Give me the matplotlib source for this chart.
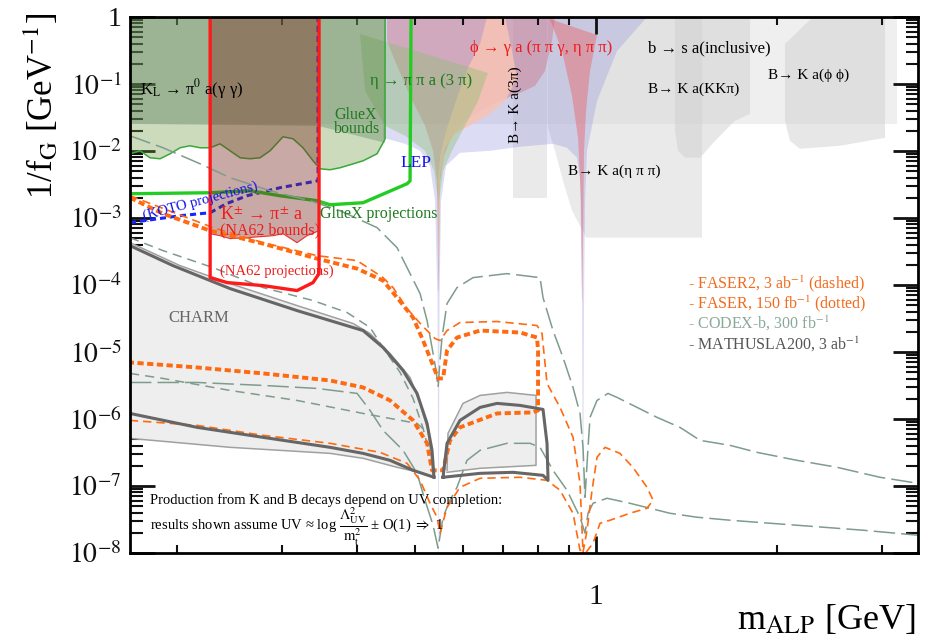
import numpy as np
import matplotlib
matplotlib.use('Agg')
import matplotlib.pyplot as plt
from matplotlib.ticker import FuncFormatter, LogLocator, NullFormatter

plt.rcParams['font.family'] = ['Liberation Serif', 'DejaVu Serif']
plt.rcParams['mathtext.fontset'] = 'stix'

# masses in GeV, couplings given as log10(1/f_G [GeV^-1])
m_lim = [0.1672, 3.441]

# b -> s a (inclusive) band
bsa_m = [0.1672, 3.176]
bsa_g = [0.0, -1.595]

# B -> K a(KK pi)
bkkpi_m = [1.354, 1.806, 1.806, 1.704, 1.579, 1.491, 1.407, 1.370, 1.354]
bkkpi_g = [0, 0, -1.446, -1.550, -1.848, -2.101, -2.101, -1.997, -1.699]

# B -> K a(phi phi)
bphi_m = [2.065, 2.300, 3.032, 3.032, 2.551, 2.188, 2.105, 2.065]
bphi_g = [-0.402, 0, 0, -1.803, -1.922, -1.967, -1.848, -1.550]

# B -> K a(3 pi)
b3pi_m = [0.7272, 0.8285]
b3pi_g = -2.697

# B -> K a(eta pi pi)
betapp_m = [0.8318, 1.502, 1.502, 0.9624, 0.9404, 0.9120, 0.8810, 0.8543, 0.8318]
betapp_g = [0, 0, -3.293, -3.293, -3.115, -2.891, -2.444, -1.997, -1.654]

# K_L -> pi0 a(gamma gamma)
kl_m = [0.1672, 0.4450, 0.4450, 0.3441, 0.1672]
kl_g = [0, 0, -1.878, -1.624, -1.595]

# GlueX bounds (lower wavy edge, left to right)
gxb_m = [0.1672, 0.1738, 0.1805, 0.1876, 0.1950, 0.2026, 0.2104, 0.2188, 0.2274,
         0.2362, 0.2455, 0.2551, 0.2650, 0.2754, 0.2862, 0.3008, 0.3126, 0.3248,
         0.3375, 0.3467, 0.3603, 0.3744, 0.3890, 0.4090, 0.4315, 0.4416, 0.4450]
gxb_g = [-2.042, -1.997, -2.101, -2.116, -2.042, -1.952, -1.922, -1.952, -1.952,
         -1.893, -1.997, -2.101, -2.116, -2.101, -1.997, -1.788, -1.818, -1.952,
         -2.146, -2.265, -2.280, -2.250, -2.206, -2.146, -2.042, -1.878, -1.818]

# eta -> pi pi a (3 pi)
eta_m = [0.4043, 0.6607, 0.6358, 0.6048, 0.5754, 0.5559, 0.5474, 0.5464, 0.5454,
         0.5370, 0.5188, 0.4806, 0.4450, 0.4121]
eta_g = [-0.253, -0.835, -1.252, -1.624, -1.997, -2.295, -2.742, -3.785, -2.742,
         -2.295, -1.997, -1.773, -1.624, -1.103]

# phi -> gamma a (pi pi gamma)
phi_m = [0.4484, 0.8543, 0.8445, 0.8222, 0.7913, 0.7470, 0.6918, 0.6408, 0.6048,
         0.5754, 0.5580, 0.5495, 0.5470, 0.5460, 0.5433, 0.5350, 0.5188, 0.4898,
         0.4624, 0.4484]
phi_g = [0, 0, -0.358, -0.805, -1.028, -1.133, -1.252, -1.401, -1.550,
         -1.773, -2.072, -2.444, -4.083, -4.083, -2.444, -1.997, -1.624, -1.177,
         -0.656, -0.358]

# phi -> gamma a (eta pi pi)
phi2_m = [0.6582, 0.7052, 0.7244, 0.7385, 0.7052, 0.6658, 0.6237, 0.5821, 0.5601,
          0.5495, 0.5468, 0.5460, 0.5454, 0.5516, 0.5645, 0.5865, 0.6118, 0.6408]
phi2_g = [0, 0, -0.507, -0.909, -1.252, -1.446, -1.595, -1.744, -1.967,
          -2.370, -3.636, -3.636, -2.370, -1.997, -1.654, -1.207, -0.760, -0.402]

# eta' spike
etap_m = [0.8380, 1.0038, 0.9772, 0.9624, 0.9550, 0.9490, 0.9477, 0.9441, 0.9333,
          0.9120, 0.8777]
etap_g = [-0.030, -0.268, -0.805, -1.401, -1.997, -4.232, -4.232, -2.742, -1.803,
          -1.177, -0.507]

# LEP
lep_m = [0.4416, 0.4806, 0.5090, 0.5288, 0.5391, 0.5443, 0.5460, 0.5468, 0.5485,
         0.5516, 0.5623, 0.5933, 0.6658, 0.7470, 0.8478, 0.8946, 0.9296, 0.9404,
         0.9477, 0.9506, 0.9521, 0.9550, 0.9587, 0.9661, 1.0038, 1.084, 1.216, 0.4450]
lep_g = [-1.803, -1.893, -1.997, -2.221, -2.742, -4.232, -8.0, -8.0, -4.232,
         -2.742, -2.221, -2.027, -1.997, -1.937, -1.893, -1.952, -2.101, -2.399,
         -4.232, -7.213, -7.213, -4.232, -2.742, -1.997, -1.252, -0.507, 0, 0]

# KOTO projections
koto_m = [0.1672, 0.2026, 0.2274, 0.2420, 0.2620, 0.2974, 0.3441, 0.3441]
koto_g = [-3.070, -2.966, -2.921, -2.787, -2.668, -2.548, -2.444, 0]

# GlueX projections
gxp_m = [0.1672, 0.2274, 0.2650, 0.2974, 0.3428, 0.3603, 0.4090, 0.4842, 0.4898, 0.4917]
gxp_g = [-2.638, -2.623, -2.593, -2.668, -2.742, -2.802, -2.772, -2.489, -2.444, 0]

# NA62 projections and bounds
na62p_m = [0.2274, 0.2274, 0.2427, 0.2786, 0.3174, 0.3375, 0.3454, 0.3454]
na62p_g = [0, -3.890, -3.964, -4.009, -4.083, -3.964, -3.830, 0]
na62b_m = [0.2274, 0.3454, 0.3454, 0.3298, 0.3174, 0.3008, 0.2895, 0.2620, 0.2455,
           0.2362, 0.2274]
na62b_g = [0, 0, -3.189, -3.264, -3.368, -3.234, -3.264, -3.294, -3.308, -3.264, -3.234]

# CHARM
charm_up_m = [0.1672, 0.2026, 0.2455, 0.3174, 0.3936, 0.4201, 0.4536, 0.4898, 0.5090,
              0.5248, 0.5329, 0.5350]
charm_up_g = [-3.368, -3.711, -3.979, -4.307, -4.575, -4.724, -5.022, -5.380, -5.767,
              -6.170, -6.662, -6.870]
charm_lo_m = [0.1672, 0.2455, 0.3603, 0.4090, 0.4660, 0.5149, 0.5350]
charm_lo_g = [-6.289, -6.423, -6.513, -6.587, -6.721, -6.811, -6.870]
charm_cu_m = [0.1672, 0.1972, 0.2455, 0.3174, 0.4090, 0.4416, 0.4769, 0.5031, 0.5228,
              0.5329, 0.5370]
charm_cu_g = [-3.413, -3.711, -4.054, -4.382, -4.680, -4.933, -5.276, -5.618, -6.066,
              -6.468, -6.870]
charm_cl_m = [0.1672, 0.2163, 0.2786, 0.3603, 0.4090, 0.4536, 0.4955, 0.5370]
charm_cl_g = [-5.917, -6.125, -6.274, -6.423, -6.513, -6.617, -6.766, -6.870]
charm2_m = [0.5559, 0.5645, 0.5933, 0.6408, 0.6839, 0.7470, 0.8159, 0.8285, 0.8318,
            0.8159, 0.7272, 0.6408, 0.5559]
charm2_g = [-6.870, -6.363, -6.021, -5.827, -5.767, -5.797, -5.857, -6.363, -6.915,
            -6.841, -6.796, -6.811, -6.870]
charm2o_m = [0.5645, 0.5666, 0.6002, 0.6408, 0.7106, 0.7943, 0.7943, 0.6408, 0.5645]
charm2o_g = [-6.766, -6.214, -5.767, -5.648, -5.603, -5.648, -6.692, -6.736, -6.796]

# FASER, 150 fb^-1 (dotted)
faser_m = [0.1672, 0.1898, 0.2274, 0.2786, 0.3428, 0.3997, 0.4416, 0.4660, 0.4955,
           0.5149, 0.5350, 0.5454, 0.5559, 0.5645, 0.5865, 0.6408, 0.7470, 0.7974,
           0.8005, 0.8005, 0.7852, 0.6839, 0.5933, 0.5710, 0.5559, 0.5329, 0.5228,
           0.4955, 0.4536, 0.4090, 0.3603, 0.2786, 0.2163, 0.1672]
faser_g = [-2.697, -2.936, -3.189, -3.383, -3.607, -3.756, -3.934, -4.188, -4.486,
           -4.829, -5.201, -5.395, -5.395, -4.978, -4.784, -4.680, -4.709, -4.784,
           -4.978, -5.872, -5.902, -5.917, -6.125, -6.319, -6.766, -6.766, -6.363,
           -6.021, -5.723, -5.529, -5.425, -5.320, -5.231, -5.156]

# FASER2, 3 ab^-1 (dashed)
faser2_m = [0.1672, 0.2300, 0.2786, 0.3428, 0.3997, 0.4416, 0.4589, 0.4842, 0.5129,
            0.5391, 0.5495, 0.5645, 0.5933, 0.6839, 0.7974, 0.8128, 0.8285, 0.8710,
            0.9155, 0.9404, 0.9513, 0.9661, 0.9848, 1.0038, 1.035, 1.096, 1.152,
            1.216, 1.245, 1.216, 1.139, 1.055, 1.0155, 0.9886, 0.9624, 0.9404,
            0.9155, 0.8710, 0.8285, 0.7470, 0.6408, 0.5933, 0.5645, 0.5495, 0.5433,
            0.5288, 0.5090, 0.4842, 0.4365, 0.3603, 0.2786, 0.2163, 0.1672]
faser2_g = [-2.668, -3.144, -3.368, -3.562, -3.636, -3.890, -4.039, -4.352, -4.605,
            -4.799, -4.829, -4.680, -4.560, -4.545, -4.605, -4.724, -5.469, -5.827,
            -6.274, -6.960, -7.99, -7.660, -7.064, -6.572, -6.423, -6.513, -6.721,
            -7.019, -7.213, -7.332, -7.407, -7.511, -7.556, -7.854, -7.99, -7.958,
            -7.407, -7.064, -6.915, -6.870, -6.885, -7.019, -7.317, -7.705, -7.467,
            -7.258, -6.915, -6.662, -6.498, -6.363, -6.244, -6.095, -6.021]

# CODEX-b, 300 fb^-1
codex_m = [0.1672, 0.1898, 0.2188, 0.2455, 0.2862, 0.3337, 0.3744, 0.4315, 0.4660,
           0.4898, 0.5090, 0.5228, 0.5329, 0.5412, 0.5454, 0.5495, 0.5537, 0.5645,
           0.5865, 0.6237, 0.7106, 0.8066, 0.8159, 0.8478, 0.8810, 0.9155, 0.9404,
           0.9513, 0.9587, 0.9698, 0.9772, 1.0038, 1.047, 1.084, 1.264, 1.380,
           1.491, 1.672, 1.855, 2.163, 2.522, 2.974, 3.441]
codex_g = [-1.773, -1.952, -2.191, -2.399, -2.593, -2.742, -2.891, -3.144, -3.443,
           -3.830, -4.128, -4.531, -4.933, -5.276, -5.529, -5.127, -4.784, -4.277,
           -4.039, -3.890, -3.830, -3.890, -4.188, -4.680, -5.082, -5.529, -5.917,
           -6.423, -7.168, -6.423, -5.976, -5.723, -5.618, -5.678, -5.976, -6.125,
           -6.319, -6.393, -6.498, -6.617, -6.721, -6.870, -6.960]
codex2_m = [0.1672, 0.2163, 0.2786, 0.3428, 0.3997, 0.4201, 0.4416, 0.4769, 0.5031,
            0.5188, 0.5350, 0.5454, 0.5559, 0.5710, 0.5865, 0.6095, 0.6408, 0.7106,
            0.7762, 0.8066, 0.8478, 0.8946, 0.9404, 0.9587, 0.9698, 0.9886, 1.043,
            1.139, 1.328, 1.473, 1.672, 2.163, 2.786, 3.441]
codex2_g = [-5.455, -5.455, -5.499, -5.544, -5.618, -5.872, -6.170, -6.468, -6.811,
            -7.213, -7.586, -7.928, -7.466, -7.213, -7.019, -6.617, -6.468, -6.363,
            -6.363, -6.423, -6.766, -7.064, -7.466, -7.705, -7.407, -7.258, -7.183,
            -7.258, -7.407, -7.466, -7.511, -7.586, -7.660, -7.735]

# MATHUSLA200, 3 ab^-1
math_m = [0.1672, 0.1898, 0.2300, 0.2786, 0.3375, 0.3846, 0.4201, 0.4416, 0.4714,
          0.4955, 0.5149, 0.5288]
math_g = [-3.294, -3.487, -3.741, -4.039, -4.232, -4.411, -4.635, -4.933, -5.305,
          -5.693, -6.140, -6.542]
math2_m = [0.1672, 0.1898, 0.2455, 0.3174, 0.4090, 0.5031, 0.5188]
math2_g = [-5.320, -5.395, -5.574, -5.723, -5.917, -6.066, -6.170]


def p(lg):
    return 10 ** np.array(lg, dtype=float)


fig = plt.figure(figsize=(9.3, 6.39), dpi=100)
ax = fig.add_axes([0.1398, 0.1346, 0.8473, 0.8388])
ax.set_xscale('log')
ax.set_yscale('log')
ax.set_xlim(m_lim)
ax.set_ylim(1e-8, 1)

# shaded regions
ax.fill([bsa_m[0], bsa_m[1], bsa_m[1], bsa_m[0]], p([bsa_g[0]] * 2 + [bsa_g[1]] * 2),
        color='#efefef', lw=0, zorder=1)
ax.fill([b3pi_m[0], b3pi_m[1], b3pi_m[1], b3pi_m[0]], p([0, 0, b3pi_g, b3pi_g]),
        color='#d6d6d6', alpha=0.5, lw=0, zorder=1.1)
ax.fill(betapp_m, p(betapp_g), color='#d6d6d6', alpha=0.5, lw=0, zorder=1.1)
ax.fill(bkkpi_m, p(bkkpi_g), color='#d0d0d0', alpha=0.5, lw=0, zorder=1.1)
ax.fill(bphi_m, p(bphi_g), color='#d0d0d0', alpha=0.5, lw=0, zorder=1.1)
ax.fill(lep_m, p(lep_g), color='#8c8ce0', alpha=0.3, lw=0, zorder=1.2)
ax.fill(phi_m, p(phi_g), color='#d06878', alpha=0.38, lw=0, zorder=1.3)
ax.fill(phi2_m, p(phi2_g), color='#f8c4b4', alpha=0.85, lw=0, zorder=1.4)
ax.fill(etap_m, p(etap_g), color='#f05050', alpha=0.38, lw=0, zorder=1.5)
ax.fill(eta_m, p(eta_g), color='#8cc070', alpha=0.4, lw=0, zorder=1.6)
ax.fill(kl_m, p(kl_g), color='#50706a', alpha=0.35, lw=0, zorder=1.7)
gx_m = [gxb_m[0], gxb_m[-1]] + gxb_m[::-1]
gx_g = [0, 0] + gxb_g[::-1]
ax.fill(gx_m, p(gx_g), color='#6a9a40', alpha=0.35, lw=0, zorder=1.8)
ax.plot(gxb_m + [gxb_m[-1]], p(gxb_g + [0]), color='#3aa83a', lw=1.1, zorder=1.85)

# CHARM
ax.fill(charm_up_m + charm_lo_m[::-1], p(charm_up_g + charm_lo_g[::-1]),
        color='#eeeeee', lw=0, zorder=2)
ax.fill(charm2o_m, p(charm2o_g), color='#eeeeee', lw=0, zorder=2)
for mm, gg in [(charm_up_m, charm_up_g), (charm_lo_m, charm_lo_g), (charm2o_m, charm2o_g)]:
    ax.plot(mm, p(gg), color='#a0a0a0', lw=1.1, zorder=2.1)
for mm, gg in [(charm_cu_m, charm_cu_g), (charm_cl_m, charm_cl_g), (charm2_m, charm2_g)]:
    ax.plot(mm, p(gg), color='#666666', lw=2.2, zorder=3.5)

# projections
cg = '#7e9c8c'
ax.plot(codex_m, p(codex_g), color=cg, lw=1.1, dashes=(14, 4), zorder=3)
ax.plot(codex2_m, p(codex2_g), color=cg, lw=1.1, dashes=(14, 4), zorder=3)
ax.plot(math_m, p(math_g), color=cg, lw=1.1, dashes=(6, 4), zorder=3)
ax.plot(math2_m, p(math2_g), color=cg, lw=1.1, dashes=(6, 4), zorder=3)
ax.plot(faser2_m, p(faser2_g), color='#ff6a10', lw=1.2, dashes=(5, 3), zorder=3.2)
ax.plot(faser_m, p(faser_g), color='#ff6a10', lw=2.8, dashes=(1.6, 0.9), zorder=3.3)

ax.plot(koto_m, p(koto_g), color='#1428ff', lw=2.2, dashes=(2, 1.3), zorder=2.5)
ax.plot(gxp_m, p(gxp_g), color='#22cc22', lw=2.4, zorder=2.5)
ax.fill(na62b_m, p(na62b_g), color='#7a2a20', alpha=0.4, lw=0, zorder=2.7)
ax.plot(na62b_m[2:], p(na62b_g[2:]), color='#e83030', lw=0.8, zorder=2.75)
ax.plot(na62p_m, p(na62p_g), color='#ff1a1a', lw=2.4, zorder=3.6)

# labels
ser = ['Liberation Serif', 'DejaVu Serif']
def lab(x, lg, s, **kw):
    kw.setdefault('fontsize', 12)
    kw.setdefault('va', 'center')
    ax.text(x, 10 ** lg, s, family=ser, zorder=6, **kw)

lab(0.1738, -1.073, 'K$_\\mathrm{L}$ → π$^\\mathrm{0}$ a(γ γ)')
lab(0.4201, -0.954, 'η → π π a (3 π)', color='#1f7a1f')
lab(0.366, -1.565, 'GlueX\nbounds', color='#1f7a1f', fontsize=11.5, linespacing=0.85)
lab(0.4714, -2.176, 'LEP', color='#1010ee', fontsize=12.5)
lab(0.3467, -2.936, 'GlueX projections', color='#1f7a1f', fontsize=11.5)
lab(0.2188, -2.742, '(KOTO projections)', color='#1010ee', fontsize=10.5,
    ha='center', rotation=15)
lab(0.2362, -2.966, 'K$^\\mathrm{±}$ → π$^\\mathrm{±}$ a', color='#ee1c1c', fontsize=13)
lab(0.2362, -3.189, '(NA62 bounds)', color='#ee1c1c', fontsize=11.5)
lab(0.2362, -3.800, '(NA62 projections)', color='#ee1c1c', fontsize=10.5)
lab(0.6166, -0.462, 'ϕ → γ a (π π γ, η π π)', color='#ee1c1c')
lab(0.7328, -1.311, 'B→ K a(3π)', rotation=90, ha='center', fontsize=11)
lab(1.221, -0.462, 'b → s a(inclusive)')
lab(1.221, -1.073, 'B→ K a(KKπ)', fontsize=11)
lab(1.935, -0.864, 'B→ K a(ϕ ϕ)', fontsize=11)
lab(0.898, -2.295, 'B→ K a(η π π)', fontsize=11)
lab(0.1935, -4.486, 'CHARM', color='#666666', fontsize=12)

lab(1.423, -3.979, '- FASER2, 3 ab$^\\mathrm{-1}$ (dashed)', color='#f26b1d', fontsize=11.5)
lab(1.423, -4.277, '- FASER, 150 fb$^\\mathrm{-1}$ (dotted)', color='#f26b1d', fontsize=11.5)
lab(1.423, -4.575, '- CODEX-b, 300 fb$^\\mathrm{-1}$', color='#8aa898', fontsize=11.5)
lab(1.423, -4.888, '- MATHUSLA200, 3 ab$^\\mathrm{-1}$', color='#555555', fontsize=11.5)

lab(0.1805, -7.213, 'Production from K and B decays depend on UV completion:', fontsize=10.5)
lab(0.1805, -7.615, 'results shown assume UV ≈ log '
    '$\\dfrac{\\Lambda^2_{\\mathrm{UV}}}{\\mathrm{m}^2_{\\mathrm{t}}}$'
    ' ± O(1) $\\Rightarrow$ 1', fontsize=10.5)

# axes styling
def fmt(v, pos):
    if abs(v - 1) < 1e-9:
        return '1'
    return r'$10^{%d}$' % round(np.log10(v))

ax.xaxis.set_major_locator(LogLocator(base=10, numticks=10))
ax.xaxis.set_major_formatter(FuncFormatter(fmt))
ax.xaxis.set_minor_formatter(NullFormatter())
ax.yaxis.set_major_locator(LogLocator(base=10, numticks=20))
ax.yaxis.set_minor_locator(LogLocator(base=10, subs=np.arange(2, 10), numticks=20))
ax.yaxis.set_major_formatter(FuncFormatter(fmt))
ax.yaxis.set_minor_formatter(NullFormatter())

ax.tick_params(axis='both', which='both', direction='in', top=True, right=True,
               colors='#111111', zorder=7)
ax.tick_params(axis='x', which='major', length=12, width=2, labelsize=21, pad=22)
ax.tick_params(axis='x', which='minor', length=6, width=1.5)
ax.tick_params(axis='y', which='major', length=18, width=2, labelsize=20, pad=6)
ax.tick_params(axis='y', which='minor', length=9, width=1.5)
for s in ax.spines.values():
    s.set_linewidth(2)
    s.set_zorder(8)

fig.text(0.984, 0.030, 'm$_\\mathrm{ALP}$ [GeV]', fontsize=26, ha='right', va='center',
         family=ser)
fig.text(0.045, 0.835, '1/f$_\\mathrm{G}$ [GeV$^\\mathrm{-1}$]', fontsize=25,
         rotation=90, ha='center', va='center', family=ser)

fig.savefig('out.png', dpi=100)
